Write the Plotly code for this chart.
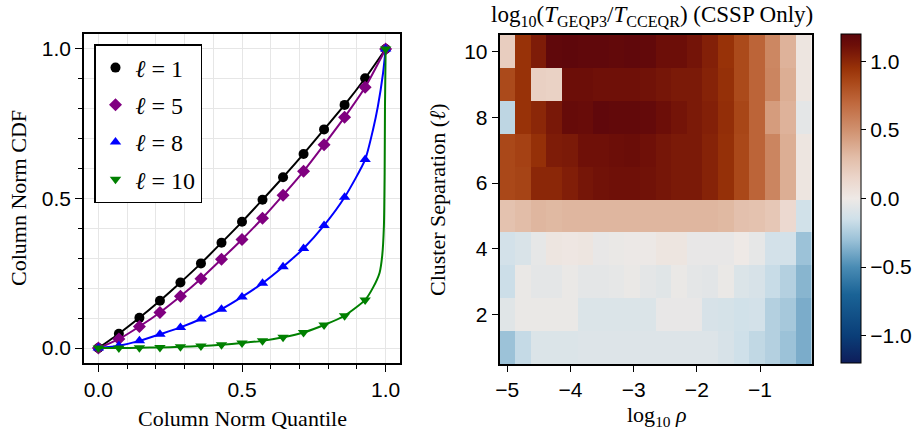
import plotly.graph_objects as go

# ---------------- Left panel data ----------------
quantiles = [0.0, 0.0714, 0.1429, 0.2143, 0.2857, 0.3571, 0.4286, 0.5,
             0.5714, 0.6429, 0.7143, 0.7857, 0.8571, 0.9286, 1.0]
cdf_l1 = [0.0, 0.048, 0.101, 0.158, 0.219, 0.283, 0.352, 0.422,
          0.496, 0.571, 0.649, 0.731, 0.813, 0.902, 1.0]
cdf_l5 = [0.0, 0.030, 0.072, 0.119, 0.173, 0.232, 0.297, 0.363,
          0.434, 0.511, 0.591, 0.680, 0.772, 0.872, 1.0]
cdf_l8 = [0.0, 0.008, 0.024, 0.046, 0.069, 0.097, 0.130, 0.171,
          0.217, 0.272, 0.333, 0.410, 0.504, 0.630, 1.0]
cdf_l10 = [0.0, 0.0, 0.001, 0.002, 0.004, 0.007, 0.011, 0.017,
           0.024, 0.036, 0.052, 0.077, 0.108, 0.161, 1.0]
# extra curve points read near q = 1 (the curves are denser than markers)
tail_q_l8 = [0.956, 0.973, 0.991]
tail_cdf_l8 = [0.73, 0.808, 0.919]
tail_q_l10 = [0.956, 0.979, 0.988, 0.994, 0.9965, 0.9977]
tail_cdf_l10 = [0.202, 0.252, 0.308, 0.408, 0.586, 0.808]

series_names = ["<i>ℓ</i> = 1", "<i>ℓ</i> = 5", "<i>ℓ</i> = 8", "<i>ℓ</i> = 10"]
series_colors = ["black", "#800080", "#0000ff", "#008000"]
series_symbols = ["circle", "diamond", "triangle-up", "triangle-down"]
series_sizes = [10, 10, 10, 10]

# ---------------- Right panel data ----------------
log_rho = [-5.0, -4.753, -4.505, -4.258, -4.011, -3.763, -3.516, -3.269,
           -3.021, -2.774, -2.527, -2.279, -2.032, -1.785, -1.537, -1.290,
           -1.043, -0.795, -0.548, -0.301]
separation = [1, 2, 3, 4, 5, 6, 7, 8, 9, 10]
ratio_row1 = [-0.30, -0.18, -0.09, -0.09, -0.09, -0.08, -0.08, -0.08, -0.08, -0.08,
              -0.08, -0.08, -0.08, -0.08, -0.11, -0.15, -0.19, -0.23, -0.30, -0.38]
ratio_row2 = [-0.07, -0.02, -0.02, -0.02, -0.02, -0.09, -0.09, -0.09, -0.09, -0.09,
              -0.03, -0.03, -0.03, -0.11, -0.12, -0.14, -0.13, -0.23, -0.27, -0.38]
ratio_row3 = [-0.16, -0.02, -0.05, -0.05, -0.02, -0.05, -0.05, -0.04, -0.02, -0.05,
              -0.07, -0.02, -0.05, -0.06, -0.02, -0.09, -0.11, -0.17, -0.23, -0.35]
ratio_row4 = [-0.13, -0.10, -0.04, 0.03, 0.02, 0.03, -0.03, -0.02, -0.01, -0.01,
              0.03, 0.03, -0.03, -0.03, -0.03, 0.0, -0.04, -0.13, -0.13, -0.30]
ratio_row5 = [0.27, 0.30, 0.33, 0.32, 0.33, 0.33, 0.33, 0.33, 0.33, 0.33,
              0.33, 0.33, 0.33, 0.33, 0.32, 0.28, 0.27, 0.24, 0.12, -0.14]
ratio_row6 = [0.85, 0.87, 1.00, 1.00, 1.04, 1.08, 1.10, 1.11, 1.11, 1.10,
              1.08, 1.06, 1.06, 1.02, 0.96, 0.85, 0.72, 0.56, 0.37, 0.03]
ratio_row7 = [0.85, 0.88, 0.96, 1.05, 1.06, 1.11, 1.11, 1.12, 1.13, 1.11,
              1.08, 1.06, 1.06, 1.02, 0.96, 0.85, 0.72, 0.56, 0.37, 0.03]
ratio_row8 = [-0.20, 0.95, 1.00, 1.07, 1.15, 1.14, 1.18, 1.17, 1.17, 1.16,
              1.12, 1.09, 1.06, 1.03, 0.97, 0.86, 0.72, 0.45, 0.35, -0.05]
ratio_row9 = [0.84, 0.95, 0.18, 0.17, 1.12, 1.12, 1.11, 1.11, 1.11, 1.10,
              1.08, 1.06, 1.06, 1.02, 0.96, 0.84, 0.72, 0.56, 0.37, 0.03]
ratio_row10 = [0.20, 0.95, 1.05, 1.18, 1.19, 1.18, 1.18, 1.17, 1.18, 1.17,
               1.12, 1.12, 1.09, 1.03, 0.95, 0.84, 0.72, 0.55, 0.35, 0.03]
z_rows = [ratio_row1, ratio_row2, ratio_row3, ratio_row4, ratio_row5,
          ratio_row6, ratio_row7, ratio_row8, ratio_row9, ratio_row10]
cbar_ticks = [-1.0, -0.5, 0.0, 0.5, 1.0]
cbar_labels = ["−1.0", "−0.5", "0.0", "0.5", "1.0"]
zlim = 1.2

# colormap anchors (value, colour)
cmap_anchors = [(-1.2, "#0e1d5a"), (-1.0, "#0a3e78"), (-0.7, "#1a6396"),
                (-0.5, "#4a8cb4"), (-0.3, "#9cc2d8"), (-0.15, "#cfe0e9"),
                (0.0, "#eee9e6"), (0.15, "#ebd5ca"), (0.3, "#e2bda8"),
                (0.5, "#d0916f"), (0.7, "#bf683d"), (0.85, "#aa4819"),
                (0.95, "#983208"), (1.05, "#7e1c08"), (1.12, "#6c0e08"),
                (1.2, "#5c060c")]
colorscale = [[(v + zlim) / (2 * zlim), c] for v, c in cmap_anchors]

W, H = 921, 434
def px(x):
    return x / W
def py(y):
    return 1 - y / H

SANS = "Liberation Sans, Arial, sans-serif"
SERIF = "Liberation Serif, Times New Roman, serif"

fig = go.Figure()

tails_q = {2: tail_q_l8, 3: tail_q_l10}
tails_c = {2: tail_cdf_l8, 3: tail_cdf_l10}
all_cdfs = [cdf_l1, cdf_l5, cdf_l8, cdf_l10]

for i, cdf in enumerate(all_cdfs):
    lq = list(quantiles)
    lc = list(cdf)
    if i in tails_q:
        pairs = sorted(zip(lq + tails_q[i], lc + tails_c[i]))
        lq = [p[0] for p in pairs]
        lc = [p[1] for p in pairs]
    fig.add_trace(go.Scatter(
        x=lq, y=lc, mode="lines",
        line=dict(color=series_colors[i], width=2, shape="spline", smoothing=0.6),
        showlegend=False, hoverinfo="skip", xaxis="x", yaxis="y"))
    fig.add_trace(go.Scatter(
        x=quantiles, y=cdf, mode="markers", name=series_names[i],
        marker=dict(color=series_colors[i], symbol=series_symbols[i],
                    size=series_sizes[i], line=dict(width=0)),
        showlegend=True, legendgroup=f"g{i}", xaxis="x", yaxis="y"))

fig.add_trace(go.Heatmap(
    x=log_rho, y=separation, z=z_rows,
    colorscale=colorscale, zmin=-zlim, zmax=zlim,
    xaxis="x2", yaxis="y2",
    colorbar=dict(
        x=px(841), xanchor="left", xref="paper", xpad=0,
        y=py(198.5), yanchor="middle", yref="paper", ypad=0,
        len=329 / H, lenmode="fraction", thickness=20,
        outlinewidth=1, outlinecolor="black",
        tickmode="array", tickvals=cbar_ticks, ticktext=cbar_labels,
        ticks="outside", ticklen=5, tickwidth=1, tickcolor="black",
        tickfont=dict(family=SANS, size=21, color="black"),
    ),
))

axis_common = dict(showline=True, linecolor="black", linewidth=1.5, mirror=True,
                   ticks="outside", tickcolor="black", tickwidth=1, automargin=False,
                   tickfont=dict(family=SANS, size=21, color="black"), zeroline=False)

fig.update_layout(
    template="none",
    width=W, height=H,
    margin=dict(l=0, r=0, t=0, b=0, pad=0, autoexpand=False),
    paper_bgcolor="white", plot_bgcolor="white",
    xaxis=dict(domain=[px(84), px(400)], range=[-0.05, 1.05],
               tickvals=[0, 0.5, 1.0], ticktext=["0.0", "0.5", "1.0"], ticklen=7,
               showgrid=True, gridcolor="#e6e6e6", gridwidth=1,
               minor=dict(dtick=0.1, tick0=0, ticklen=4, ticks="outside",
                          tickcolor="black", showgrid=True, gridcolor="#e6e6e6"),
               anchor="y", **axis_common),
    yaxis=dict(domain=[py(363), py(34)], range=[-0.05, 1.05],
               tickvals=[0, 0.5, 1.0], ticktext=["0.0", "0.5", "1.0"], ticklen=7,
               showgrid=True, gridcolor="#e6e6e6", gridwidth=1,
               minor=dict(dtick=0.1, tick0=0, ticklen=4, ticks="outside",
                          tickcolor="black", showgrid=True, gridcolor="#e6e6e6"),
               anchor="x", **axis_common),
    xaxis2=dict(domain=[px(499.5), px(812)], range=[-5.124, -0.177],
                tickmode="linear", tick0=-5, dtick=1, ticklen=6,
                showgrid=False, anchor="y2", **axis_common),
    yaxis2=dict(domain=[py(364), py(35)], range=[0.5, 10.5],
                tickmode="linear", tick0=2, dtick=2, ticklen=6,
                showgrid=False, anchor="x2", **axis_common),
    legend=dict(x=px(94), y=py(44), xanchor="left", yanchor="top",
                bgcolor="white", bordercolor="black", borderwidth=1.5,
                font=dict(family=SERIF, size=24, color="black"),
                tracegroupgap=3, itemsizing="trace"),
    annotations=[
        dict(text="log<sub>10</sub>(<i>T</i><sub>GEQP3</sub>/<i>T</i><sub>CCEQR</sub>) (CSSP Only)",
             x=px(652), y=py(16), xref="paper", yref="paper",
             xanchor="center", yanchor="middle", showarrow=False,
             font=dict(family=SERIF, size=23, color="black")),
        dict(text="Column Norm CDF", x=px(18), y=py(198), xref="paper", yref="paper",
             xanchor="center", yanchor="middle", textangle=-90, showarrow=False,
             font=dict(family=SERIF, size=22, color="black")),
        dict(text="Column Norm Quantile", x=px(242), y=py(418), xref="paper", yref="paper",
             xanchor="center", yanchor="middle", showarrow=False,
             font=dict(family=SERIF, size=22, color="black")),
        dict(text="Cluster Separation (<i>ℓ</i>)", x=px(437), y=py(200), xref="paper",
             yref="paper", xanchor="center", yanchor="middle", textangle=-90,
             showarrow=False, font=dict(family=SERIF, size=22, color="black")),
        dict(text="log<sub>10</sub> <i>ρ</i>", x=px(657), y=py(416), xref="paper",
             yref="paper", xanchor="center", yanchor="middle", showarrow=False,
             font=dict(family=SERIF, size=22, color="black")),
    ],
)

fig.write_html("out.html", config={"displayModeBar": False},
               post_script="document.body.style.margin='0';document.body.style.overflow='hidden';")
